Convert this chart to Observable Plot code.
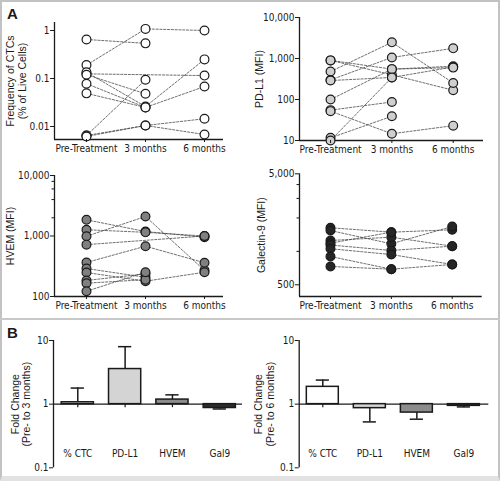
<!DOCTYPE html>
<html><head><meta charset="utf-8">
<script src="https://cdn.jsdelivr.net/npm/d3@7"></script>
<script src="https://cdn.jsdelivr.net/npm/@observablehq/plot@0.6"></script>
<style>
body{margin:0;background:#fff;}
#fig{position:relative;width:500px;height:481px;overflow:hidden;background:#fff;}
#border{position:absolute;left:0;top:0;width:500px;height:481px;box-sizing:border-box;border:2px solid #c2c2c2;border-bottom:5px solid #e2e2e2;}
#sep{position:absolute;left:0;top:318px;width:500px;height:2px;background:#c8c8c8;}
.panel{position:absolute;}
.lab{position:absolute;font-family:"Liberation Sans",Arial,sans-serif;font-weight:bold;color:#1a1a1a;line-height:1;}
</style></head><body><div id="fig"><div id="border"></div><div id="sep"></div></div>
<script>
// ---- data ----
const timepoints = ["Pre-Treatment", "3 months", "6 months"];
// each row: one patient [pre, 3 months, 6 months]
const ctcFreq = [
  [0.65, 0.54, null],
  [0.19, 1.08, 1.0],
  [0.125, null, 0.115],
  [0.135, 0.026, 0.25],
  [0.12, 0.048, null],
  [0.078, 0.025, 0.068],
  [0.049, 0.025, null],
  [0.0065, 0.094, null],
  [0.0065, 0.0105, 0.0145],
  [0.0062, 0.0105, 0.0068]
];
const pdl1 = [
  [900, 550, 650],
  [900, 400, 168],
  [480, 2480, 253],
  [300, 1060, 1770],
  [290, 345, 620],
  [100, 550, 600],
  [55, 87, null],
  [52, 14.6, 23],
  [11.6, 39, null],
  [10, 345, null]
];
const hvem = [
  [1850, 1186, 955],
  [1270, 1150, 1000],
  [990, 2100, 270],
  [720, null, 1000],
  [365, 678, 361],
  [290, 208, null],
  [249, 179, 252],
  [184, 237, null],
  [166, 190, null],
  [122, 252, null]
];
const gal9 = [
  [1632, 1489, 1565],
  [1540, 1170, 1675],
  [1253, 1342, 1114],
  [1185, 1489, null],
  [1140, 1019, 1114],
  [1056, 936, 762],
  [899, 691, 762],
  [731, 691, null]
];
const markers = ["% CTC", "PD-L1", "HVEM", "Gal9"];
const fold3 = [1.07, 3.56, 1.18, 0.87];
const err3 = [1.79, 8.0, 1.40, 0.84];
const fold6 = [1.87, 0.865, 0.737, 0.94];
const err6 = [2.39, 0.526, 0.58, 0.905];

// ---- styling ----
const FONT = '"Liberation Sans Narrow","Arial Narrow","DejaVu Sans Condensed",sans-serif';
const TFONT = '"Liberation Sans",Arial,sans-serif';
const INK = "#1a1a1a";
const barFills = ["#ffffff", "#d4d4d4", "#8c8c8c", "#2e2e2e"];

const fig = document.getElementById("fig");
function place(node, left, top) {
  const d = document.createElement("div");
  d.className = "panel";
  d.style.left = left + "px"; d.style.top = top + "px";
  d.appendChild(node); fig.appendChild(d);
}

function longForm(rows) {
  const out = [];
  rows.forEach((row, p) => row.forEach((v, t) => { if (v != null) out.push({p, t, v}); }));
  return out;
}

function paired(o) {
  const pts = longForm(o.rows);
  const marks = [
    Plot.line(pts, {x: "t", y: "v", z: "p", stroke: "#4a4a4a", strokeWidth: 0.8, strokeDasharray: "2.2,1.6"}),
    Plot.ruleY([o.yDomain[0]], {stroke: INK, strokeWidth: 1.3}),
    Plot.ruleX([o.xDomain[0]], {stroke: INK, strokeWidth: 1.3}),
    Plot.dot(pts, {x: "t", y: "v", r: 4.4, fill: o.fill, stroke: INK, strokeWidth: 1.2}),
    Plot.axisY({ticks: o.yTicks, tickFormat: o.yFormat, tickSize: 4, tickPadding: 1, label: null}),
    Plot.axisX({ticks: [0, 1, 2], tickFormat: i => timepoints[i], tickSize: 3, tickPadding: 2, label: null}),
    Plot.text([o.title], {text: d => d, frameAnchor: "left", textAnchor: "middle", lineAnchor: "middle",
      rotate: -90, dx: o.titleDx, fontFamily: TFONT, fontSize: 10.5, lineHeight: 1.08, fill: INK})
  ];
  if (o.yMinor) marks.push(Plot.axisY({ticks: o.yMinor, tickFormat: () => "", tickSize: 2.5, label: null}));
  return Plot.plot({
    width: 250, height: 160,
    marginLeft: o.m[0], marginRight: o.m[1], marginTop: o.m[2], marginBottom: o.m[3],
    x: {type: "linear", domain: o.xDomain, label: null},
    y: {type: "log", domain: o.yDomain, label: null},
    style: {fontFamily: FONT, fontSize: "10px", color: INK, background: "transparent", overflow: "visible"},
    marks
  });
}

function fold(o) {
  const rows = markers.map((m, i) => ({i, m, v: o.values[i], e: o.errors[i], fill: barFills[i]}));
  return Plot.plot({
    width: 250, height: 161,
    marginLeft: o.m[0], marginRight: o.m[1], marginTop: 20, marginBottom: 13.7,
    x: {type: "linear", domain: o.xDomain, label: null},
    y: {type: "log", domain: [0.1, 10], label: null},
    color: {type: "identity"},
    style: {fontFamily: FONT, fontSize: "10px", color: INK, background: "transparent", overflow: "visible"},
    marks: [
      Plot.ruleX([o.xDomain[0]], {stroke: INK, strokeWidth: 1.3}),
      Plot.ruleX(rows, {x: "i", y1: "v", y2: "e", stroke: INK, strokeWidth: 1.5}),
      Plot.ruleY(rows, {y: "e", x1: d => d.i - 0.14, x2: d => d.i + 0.14, stroke: INK, strokeWidth: 1.5}),
      Plot.ruleY([1], {stroke: INK, strokeWidth: 1.3}),
      Plot.ruleX(rows, {x: "i", y1: 1, y2: 0.88, stroke: INK, strokeWidth: 1.2}),
      Plot.rectY(rows, {x1: d => d.i - 0.34, x2: d => d.i + 0.34, y1: 1, y2: "v", fill: "fill", stroke: INK, strokeWidth: 1.5}),
      Plot.axisY({ticks: [0.1, 1, 10], tickFormat: d => String(d), tickSize: 4, tickPadding: 1, label: null}),
      Plot.axisX({ticks: [0, 1, 2, 3], tickFormat: i => markers[i], tickSize: 0, tickPadding: 3, dy: -21, label: null}),
      Plot.text([o.title], {text: d => d, frameAnchor: "left", textAnchor: "middle", lineAnchor: "middle",
        rotate: -90, dx: o.titleDx, fontFamily: TFONT, fontSize: 10.5, lineHeight: 1.1, fill: INK})
    ]
  });
}

const fmtComma = d3.format(",");

place(paired({rows: ctcFreq, fill: "#ffffff", m: [54, 27, 22, 21], xDomain: [-0.542, 2.322],
  yDomain: [0.00536, 1.468], yTicks: [0.01, 0.1, 1], yFormat: d => String(d),
  title: "Frequency of CTCs\n(% of Live Cells)", titleDx: -38}), 0, 0);

place(paired({rows: pdl1, fill: "#cfcfcf", m: [49, 17, 17, 20], xDomain: [-0.506, 2.494],
  yDomain: [10, 10000], yTicks: [10, 100, 1000, 10000], yFormat: fmtComma,
  title: "PD-L1 (MFI)", titleDx: -40}), 250, 0);

place(paired({rows: hvem, fill: "#808080", m: [54, 27, 15, 24], xDomain: [-0.542, 2.322],
  yDomain: [100, 10000], yTicks: [100, 1000, 10000], yFormat: fmtComma, yMinor: [2000, 4000, 6000, 8000],
  title: "HVEM (MFI)", titleDx: -44.5}), 0, 160);

place(paired({rows: gal9, fill: "#262626", m: [49, 18.3, 13.3, 24], xDomain: [-0.509, 2.493],
  yDomain: [392, 5000], yTicks: [500, 5000], yFormat: fmtComma, yMinor: [1000, 2000, 3000, 4000],
  title: "Galectin-9 (MFI)", titleDx: -38.5}), 250, 160);

place(fold({values: fold3, errors: err3, m: [53, 8], xDomain: [-0.513, 3.48],
  title: "Fold Change\n(Pre- to 3 months)", titleDx: -32.7}), 0, 320);

place(fold({values: fold6, errors: err6, m: [48.7, 11.7], xDomain: [-0.502, 3.53],
  title: "Fold Change\n(Pre- to 6 months)", titleDx: -34.7}), 250, 320);

function letter(t, x, y, size) {
  const d = document.createElement("div");
  d.className = "lab"; d.textContent = t;
  d.style.left = x + "px"; d.style.top = y + "px"; d.style.fontSize = size + "px";
  fig.appendChild(d);
}
letter("A", 7, 6, 15);
letter("B", 7, 325, 15);
</script></body></html>
